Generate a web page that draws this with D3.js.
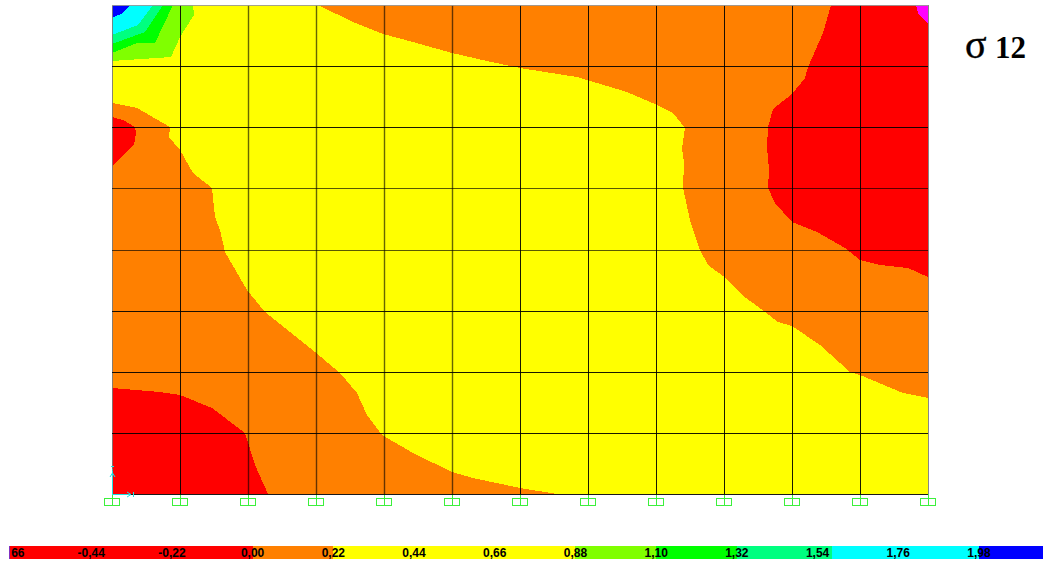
<!DOCTYPE html>
<html><head><meta charset="utf-8">
<style>html,body{margin:0;padding:0;background:#fff;overflow:hidden}svg{display:block}</style>
<script src="https://cdnjs.cloudflare.com/ajax/libs/d3/7.8.5/d3.min.js"></script>
</head><body><svg id="c" width="1043" height="565"></svg>
<script>
// Plate model coordinates (0-816 wide, 0-489 tall, y measured from the top edge)
const gridColumns = 12, gridRows = 8, modelWidth = 816, modelHeight = 489;
const legendLabels = ["66","-0,44","-0,22","0,00","0,22","0,44","0,66","0,88","1,10","1,32","1,54","1,76","1,98"];
const legendValues = [-0.66,-0.44,-0.22,0,0.22,0.44,0.66,0.88,1.10,1.32,1.54,1.76,1.98];
const bandStops = [-0.8,0,0.22,0.88,1.10,1.32,1.58,1.98,2.26];
const bandColors = ["#ff0000","#ff8000","#ffff00","#80ff00","#00ff00","#00ff80","#00ffff","#0000ff"];
const plateBackground = [[0,0],[816,0],[816,489],[0,489]];
const orangeRight = [[206,0],[241,17],[271,29],[301,37],[340,48],[375,56],[408,63],[465,72],[515,87],[545,100],[561,108],[573,123],[570,143],[572,158],[571,183],[578,215],[588,245],[596,260],[611,271],[630,290],[653,307],[666,317],[680,321],[708,340],[738,367],[748,370],[791,388],[816,393],[816,0]];
const redRight = [[719,0],[711,28],[696,62],[693,73],[680,89],[661,104],[656,122],[655,142],[657,165],[656,183],[663,198],[680,217],[705,227],[733,243],[748,255],[768,260],[796,263],[816,272],[816,0]];
const magentaCorner = [[804,0],[806,8],[816,19],[816,0]];
const orangeLeft = [[0,98],[25,103],[58,122],[57,132],[68,145],[81,168],[100,183],[103,212],[108,225],[113,247],[135,285],[153,307],[203,347],[228,368],[245,388],[255,410],[270,430],[301,448],[340,467],[361,473],[408,483],[445,489],[0,489]];
const redLeft = [[0,112],[11,115],[23,122],[24,128],[22,140],[0,161]];
const redBottom = [[0,383],[48,387],[68,390],[100,403],[133,428],[143,460],[156,489],[0,489]];
const chartreuseCorner = [[0,56],[59,52],[68,32],[82,10],[81,0],[0,0]];
const greenCorner = [[0,48],[25,38],[43,38],[61,0],[0,0]];
const springCorner = [[0,39],[33,27],[51,0],[0,0]];
const cyanCorner = [[0,30],[26,20],[41,0],[0,0]];
const blueCorner = [[0,13],[11,8],[18,0],[0,0]];
const regions = [
 {pts:plateBackground,color:"#ffff00"},{pts:orangeRight,color:"#ff8000"},{pts:redRight,color:"#ff0000"},
 {pts:magentaCorner,color:"#ff00ff"},{pts:orangeLeft,color:"#ff8000"},{pts:redLeft,color:"#ff0000"},
 {pts:redBottom,color:"#ff0000"},{pts:chartreuseCorner,color:"#80ff00"},{pts:greenCorner,color:"#00ff00"},
 {pts:springCorner,color:"#00ff80"},{pts:cyanCorner,color:"#00ffff"},{pts:blueCorner,color:"#0000ff"}];

const svg = d3.select("#c");
const x = d3.scaleLinear().domain([0,modelWidth]).range([112,928]);
const y = d3.scaleLinear().domain([0,modelHeight]).range([5,494]);
const line = d3.line().x(d=>x(d[0])).y(d=>y(d[1])).curve(d3.curveLinearClosed);

svg.append("g").selectAll("path").data(regions).join("path")
  .attr("d",d=>line(d.pts)).attr("fill",d=>d.color).attr("shape-rendering","crispEdges");

const colX = d3.range(gridColumns+1).map(i=>i*modelWidth/gridColumns);
const rowY = d3.range(gridRows+1).map(i=>i*modelHeight/gridRows);

// supports
const sup = svg.append("g").attr("stroke","#3cf03c").attr("fill","none");
sup.selectAll("rect").data(colX).join("rect")
  .attr("x",d=>x(d)-7.5).attr("y",y(modelHeight)+4.5).attr("width",15).attr("height",7);
sup.selectAll("line").data(colX).join("line")
  .attr("x1",d=>Math.round(x(d))+.5).attr("x2",d=>Math.round(x(d))+.5).attr("y1",y(modelHeight)).attr("y2",y(modelHeight)+12);

// grid
const grid = svg.append("g");
grid.selectAll("line.v").data(colX).join("line").attr("class","v")
  .attr("x1",d=>Math.round(x(d))+.5).attr("x2",d=>Math.round(x(d))+.5).attr("y1",y(0)).attr("y2",y(modelHeight))
  .attr("stroke",(d,i)=>(i===0||i===gridColumns)?"#7a7a7a":"#000")
  .attr("stroke-width",(d,i)=>(i>=2&&i<=5)?1.4:1)
  .attr("stroke-opacity",(d,i)=>(i>=2&&i<=5)?0.6:0.9);
grid.selectAll("line.h").data(rowY).join("line").attr("class","h")
  .attr("x1",x(0)).attr("x2",x(modelWidth)).attr("y1",d=>Math.round(y(d))+.5).attr("y2",d=>Math.round(y(d))+.5)
  .attr("stroke",(d,i)=>i===0?"#999":"#000").attr("stroke-opacity",(d,i)=>(i===3||i===4)?0.65:0.9);

// local axes glyph
const ax = svg.append("g").attr("stroke","#22e0e0").attr("fill","none");
ax.append("line").attr("x1",x(0)+.5).attr("x2",x(0)+.5).attr("y1",y(modelHeight)+.5).attr("y2",y(modelHeight)-23);
ax.append("line").attr("x1",x(0)).attr("x2",x(0)+18).attr("y1",y(modelHeight)+.5).attr("y2",y(modelHeight)+.5);
ax.append("path").attr("d",`M${x(0)-2} ${y(modelHeight)-17}L${x(0)+.5} ${y(modelHeight)-21}L${x(0)+3} ${y(modelHeight)-17}M${x(0)-1} ${y(modelHeight)-27.5}H${x(0)+2}M${x(0)} ${y(modelHeight)-24}H${x(0)+1}`);
ax.append("path").attr("d",`M${x(0)+15} ${y(modelHeight)-2}L${x(0)+19} ${y(modelHeight)+.5}L${x(0)+15} ${y(modelHeight)+3}M${x(0)+21.5} ${y(modelHeight)-2}V${y(modelHeight)+3}`);

// colour legend
const lx = d3.scaleLinear().domain([-0.66,1.98]).range([10.5,979]);
const barLeft = 9, barRight = 1043;
const bandEdges = bandStops.map(v=>Math.max(barLeft,Math.min(barRight,lx(v))));
svg.append("g").selectAll("rect").data(bandColors).join("rect")
  .attr("x",(d,i)=>bandEdges[i]).attr("width",(d,i)=>bandEdges[i+1]-bandEdges[i])
  .attr("y",546).attr("height",13).attr("fill",d=>d).attr("shape-rendering","crispEdges");
svg.append("line").attr("x1",9.5).attr("x2",9.5).attr("y1",546).attr("y2",559).attr("stroke","#8030c0");

svg.append("g").selectAll("text").data(legendValues).join("text")
  .attr("x",(d,i)=>i===0?lx(d)+14:lx(d)).attr("y",557).attr("text-anchor",(d,i)=>i===0?"end":"middle")
  .attr("font-family","Liberation Sans").attr("font-weight","bold").attr("font-size",12).attr("fill","#000")
  .text((d,i)=>legendLabels[i]);

const title = svg.append("text").attr("x",965).attr("y",58).attr("font-family","Liberation Serif").attr("fill","#000");
title.append("tspan").attr("font-size",40).attr("stroke","#000").attr("stroke-width",0.4).text("σ");
title.append("tspan").attr("x",995).attr("font-size",31).attr("font-weight","bold").text("12");
</script></body></html>
